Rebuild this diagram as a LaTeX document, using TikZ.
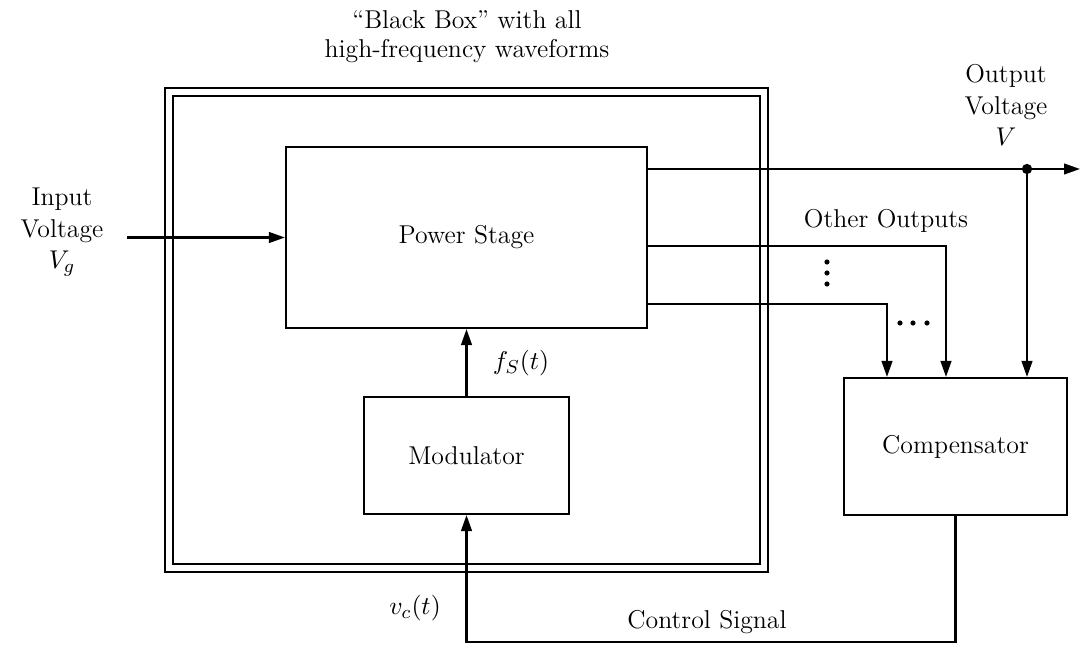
\documentclass[tikz,border=0pt]{standalone}
\usepackage{amsmath,amssymb}
\usepackage{tikz}
\usetikzlibrary{arrows.meta,positioning,calc}
\tikzset{
  base/.style={font=\fontsize{11}{12.5}\selectfont, align=center, inner sep=2pt, text=black},
  blk/.style={base, rectangle, draw=black, fill=white, line width=0.9pt},
  dblk/.style={rectangle, draw=black, line width=0.8pt, double, double distance=2.6pt},
  arr/.style={-{Triangle[length=2.4mm,width=1.6mm]}, line width=0.9pt, draw=black},
  lbl/.style={base},
  tall/.style={base, font=\fontsize{11}{13.5}\selectfont},
  dot/.style={circle, fill=black, inner sep=0pt, minimum size=2.2pt},
}
\begin{document}
\begin{tikzpicture}[x=0.015cm,y=-0.015cm]
  \useasboundingbox (0,0) rectangle (1081,651);
  \node[dblk,minimum width=8.925cm,minimum height=7.14cm] (bbox) at (466.5,330) {};
  \node[blk,minimum width=5.415cm,minimum height=2.715cm] (ps)   at (466.5,237.5) {Power Stage};
  \node[blk,minimum width=3.075cm,minimum height=1.755cm] (mod)  at (466.5,455.5) {Modulator};
  \node[blk,minimum width=3.345cm,minimum height=2.055cm] (comp) at (955.5,446.5) {Compensator};
  \node[lbl]  (title) at (467,37)   {``Black Box'' with all\\high-frequency waveforms};
  \node[tall] (vin)   at (62,232)   {Input\\Voltage\\$V_g$};
  \node[tall] (vout)  at (1006,105) {Output\\Voltage\\$V$};
  \node[lbl]  (other) at (886,221)  {Other Outputs};
  \node[lbl]  (fs)    at (521,363)  {$f_S(t)$};
  \node[lbl]  (vc)    at (415,608)  {$v_c(t)$};
  \node[lbl]  (ctrl)  at (707,622)  {Control Signal};
  \node[dot] (vd1) at (827,262) {};
  \node[dot] (vd2) at (827,273) {};
  \node[dot] (vd3) at (827,284) {};
  \node[dot] (hd1) at (900,323) {};
  \node[dot] (hd2) at (913,323) {};
  \node[dot] (hd3) at (927,323) {};
  \coordinate (in)   at (127,237.5);
  \coordinate (tap)  at (1027,169);
  \coordinate (end)  at (1080,169);
  \coordinate (o1)   at (946,246);
  \coordinate (o2)   at (887,304);
  \draw[arr] (in) -- (ps.west);
  \draw[arr] (tap -| ps.east) -- (end);
  \fill (tap) circle (2.2pt);
  \draw[arr] (tap) -- (tap |- comp.north);
  \draw[arr] (o1 -| ps.east) -- (o1) -- (o1 |- comp.north);
  \draw[arr] (o2 -| ps.east) -- (o2) -- (o2 |- comp.north);
  \draw[arr] (mod.north) -- (ps.south);
  \draw[arr] (comp.south) -- ++(0,126) -| (mod.south);
\end{tikzpicture}
\end{document}
